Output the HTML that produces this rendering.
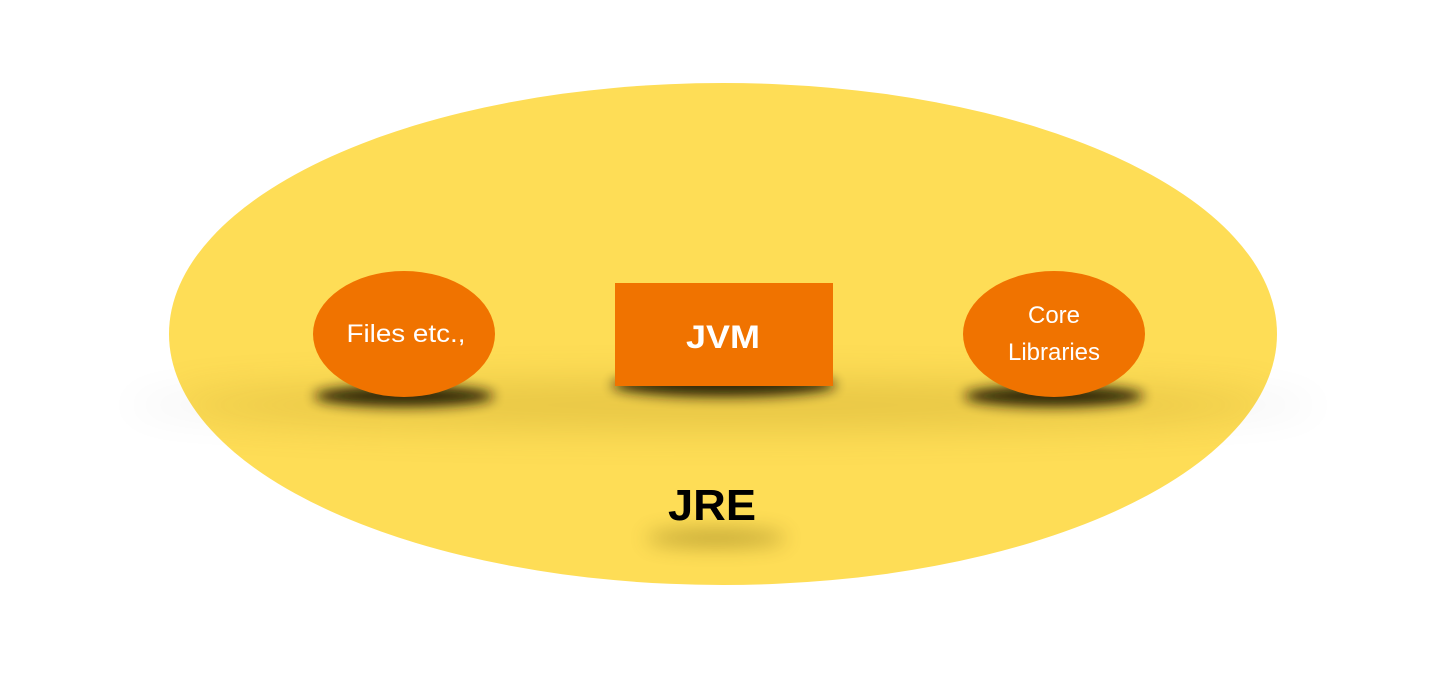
<!DOCTYPE html>
<html><head><style>
html,body{margin:0;padding:0;background:#fff;width:1442px;height:686px;overflow:hidden}
svg{display:block}
</style></head><body>
<svg width="1442" height="686" viewBox="0 0 1442 686" xmlns="http://www.w3.org/2000/svg">
<defs>
<filter id="b1" x="-50%" y="-200%" width="200%" height="500%"><feGaussianBlur stdDeviation="6"/></filter>
<filter id="b2" x="-50%" y="-200%" width="200%" height="500%"><feGaussianBlur stdDeviation="20"/></filter>
<filter id="b3" x="-50%" y="-200%" width="200%" height="500%"><feGaussianBlur stdDeviation="10"/></filter>
</defs>
<ellipse cx="723" cy="405" rx="600" ry="22" fill="#000" opacity="0.05" filter="url(#b2)"/>
<ellipse cx="723" cy="334" rx="554" ry="251" fill="#FEDD56"/>
<clipPath id="c"><ellipse cx="723" cy="334" rx="554" ry="251"/></clipPath>
<g clip-path="url(#c)">
<ellipse cx="723" cy="405" rx="560" ry="22" fill="#8a6a00" opacity="0.22" filter="url(#b2)"/>
<ellipse cx="404" cy="396" rx="90" ry="11" fill="#1a1400" opacity="0.9" filter="url(#b1)"/>
<ellipse cx="1054" cy="396" rx="90" ry="11" fill="#1a1400" opacity="0.9" filter="url(#b1)"/>
<ellipse cx="724" cy="385" rx="112" ry="12" fill="#1a1400" opacity="0.9" filter="url(#b1)"/>
<ellipse cx="716" cy="538" rx="70" ry="8" fill="#5a4800" opacity="0.4" filter="url(#b3)"/>
</g>
<ellipse cx="404" cy="334" rx="91" ry="63" fill="#F07300"/>
<ellipse cx="1054" cy="334" rx="91" ry="63" fill="#F07300"/>
<rect x="615" y="283" width="218" height="103" fill="#F07300"/>
<g font-family="Liberation Sans, sans-serif" fill="#fff" text-anchor="middle">
<text x="406" y="342" font-size="25" textLength="119" lengthAdjust="spacingAndGlyphs">Files etc.,</text>
<text x="723" y="348" font-size="32" font-weight="bold" textLength="74" lengthAdjust="spacingAndGlyphs">JVM</text>
<text x="1054" y="323" font-size="24">Core</text>
<text x="1054" y="360" font-size="24">Libraries</text>
<text x="712" y="520" font-size="44" font-weight="bold" fill="#000" textLength="88" lengthAdjust="spacingAndGlyphs">JRE</text>
</g>
</svg>
</body></html>
